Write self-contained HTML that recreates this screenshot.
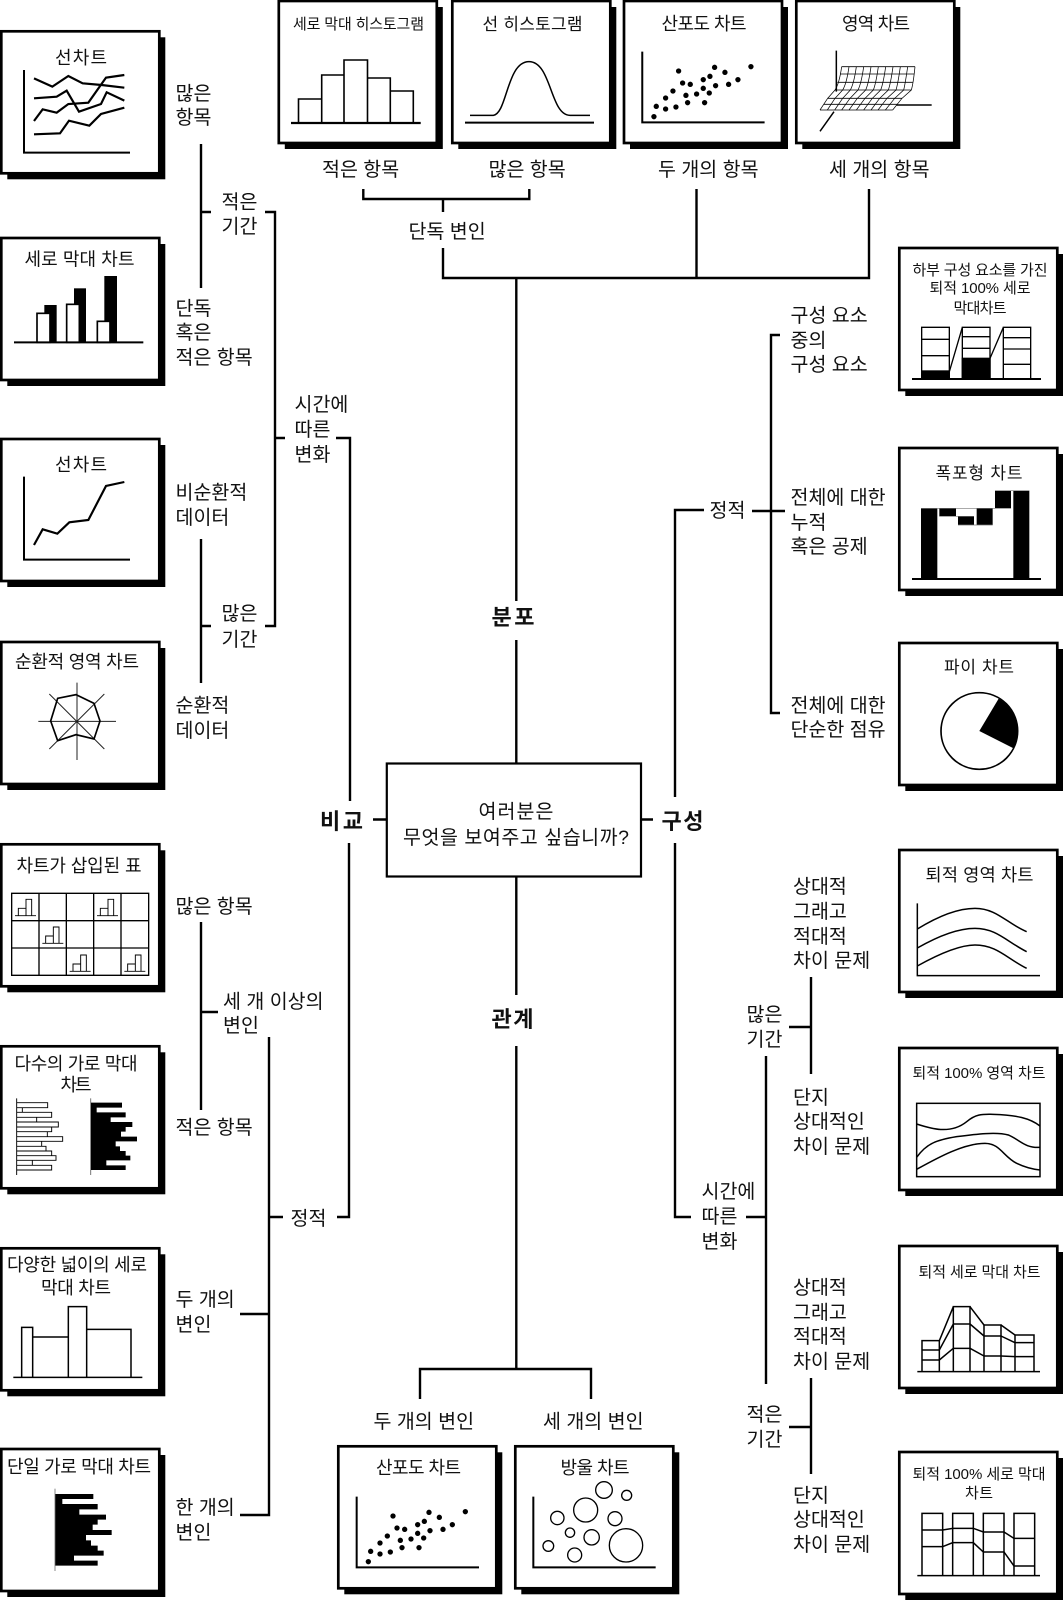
<!DOCTYPE html>
<html lang="ko"><head><meta charset="utf-8"><title>차트 선택 다이어그램</title>
<style>
html,body{margin:0;padding:0;background:#fff}
svg{display:block}
text{font-family:"Liberation Sans","Noto Sans CJK KR",sans-serif;fill:#111;font-size:19.5px}
.t{text-anchor:middle;font-size:18px}
.b{font-weight:700;font-size:22px}
.l{stroke:#000;stroke-width:2.4;fill:none}
.z{fill:none;stroke:#000}
</style></head><body>
<svg xmlns="http://www.w3.org/2000/svg" width="1063" height="1600" viewBox="0 0 1063 1600">
<defs>
<g id="f"><rect x="6" y="6" width="158" height="142" fill="#000"/><rect width="158" height="142" fill="#fff" stroke="#000" stroke-width="2.7"/></g>
<g id="sc" fill="#000">
<circle cx="115" cy="785" r="8"/><circle cx="122" cy="754" r="8"/><circle cx="150" cy="762" r="8"/><circle cx="150" cy="729" r="8"/><circle cx="181" cy="756" r="8"/><circle cx="172" cy="708" r="8"/><circle cx="216" cy="743" r="8"/><circle cx="211" cy="721" r="8"/><circle cx="201" cy="684" r="8"/><circle cx="224" cy="688" r="8"/><circle cx="243" cy="717" r="8"/><circle cx="263" cy="700" r="8"/><circle cx="281" cy="714" r="8"/><circle cx="267" cy="743" r="8"/><circle cx="300" cy="692" r="8"/><circle cx="263" cy="674" r="8"/><circle cx="283" cy="664" r="8"/><circle cx="189" cy="648" r="8"/><circle cx="297" cy="637" r="8"/><circle cx="328" cy="652" r="8"/><circle cx="339" cy="688" r="8"/><circle cx="367" cy="674" r="8"/><circle cx="406" cy="635" r="8"/>
<path d="M80 590V802H447" fill="none" stroke="#000" stroke-width="6"/>
</g>
<g id="mini" fill="none" stroke="#000" stroke-width="2.8"><path d="M0 0H63"/><path d="M10 0V-22H33V0M33 -22V-49H50V0"/></g>
</defs>

<!-- frames -->
<use href="#f" x="1.3" y="31.3"/><use href="#f" x="1.3" y="238"/><use href="#f" x="1.3" y="439"/><use href="#f" x="1.3" y="642"/><use href="#f" x="1.3" y="844.3"/><use href="#f" x="1.3" y="1046.3"/><use href="#f" x="1.3" y="1248.3"/><use href="#f" x="1.3" y="1449"/>
<use href="#f" x="278.8" y="1"/><use href="#f" x="452.3" y="1"/><use href="#f" x="624" y="1"/><use href="#f" x="796.3" y="1"/>
<use href="#f" x="899.3" y="248"/><use href="#f" x="899.3" y="448"/><use href="#f" x="899.3" y="643"/><use href="#f" x="899.3" y="850"/><use href="#f" x="899.3" y="1048"/><use href="#f" x="899.3" y="1246"/><use href="#f" x="899.3" y="1452"/>
<use href="#f" x="338.3" y="1446.3"/><use href="#f" x="515.3" y="1446.3"/>

<!-- center box -->
<rect x="386.8" y="763.5" width="254.2" height="113" fill="#fff" stroke="#000" stroke-width="2.2"/>

<!-- connectors -->
<g class="l">
<path d="M516.3 763V640M516.3 601V278"/>
<path d="M443 248V278H869V189M696.5 278V189"/>
<path d="M363.3 189V199H529.3V189M443 199V212"/>
<path d="M516.3 877V995M516.3 1046V1369"/>
<path d="M420 1399V1369H591V1399"/>
<path d="M373 819.5H386M641 819.5H653"/>
<path d="M350 801V438H336M349 843V1217H337"/>
<path d="M265 212H275V626H265M275 438H285"/>
<path d="M201 144V288M201 212H211"/>
<path d="M201 539V683M201 626H211"/>
<path d="M269 1037V1515H240M269 1217H283M269 1314H240"/>
<path d="M201 922V1110M201 1012H218"/>
<path d="M675 797V510H704M675 843V1217H691"/>
<path d="M780 335H771V713H780M752 511H785"/>
<path d="M746 1217H766M766 1056V1384"/>
<path d="M811 977V1074M789 1027H811"/>
<path d="M811 1378V1474M789 1427H811"/>
</g>

<!-- L1 line chart -->
<g class="z" transform="scale(.33333)">
<path d="M72 210V458H390" stroke-width="6"/>
<g stroke-width="6.5">
<path d="M102 235L157 260L205 228L248 250L305 255L373 263"/>
<path d="M102 295L170 290L200 272L237 335L303 312L320 277L373 302"/>
<path d="M102 363L128 328L170 338L205 312L265 308L318 233L373 225"/>
<path d="M102 403L180 400L207 362L268 377L303 342L373 323"/>
</g>
</g>
<!-- L2 bars -->
<g transform="scale(.33333)">
<rect x="133" y="915" width="37" height="112"/><rect x="222" y="865" width="36" height="162"/><rect x="313" y="828" width="38" height="199"/>
<g fill="#fff" stroke="#000" stroke-width="5"><rect x="111" y="940" width="39" height="87"/><rect x="200" y="913" width="38" height="114"/><rect x="292" y="964" width="38" height="63"/></g>
<path d="M42 1027H430" stroke="#000" stroke-width="6"/>
</g>
<!-- L3 -->
<g class="z" transform="translate(0,400) scale(.33333)">
<path d="M72 230V479H390" stroke-width="6"/>
<path d="M102 435L128 388L172 401L208 367L265 360L318 258L373 246" stroke-width="6.5"/>
</g>
<!-- L4 radar -->
<g class="z" transform="translate(0,400) scale(.33333)">
<path d="M231 848V1080M115 964H348M148 882L313 1047M313 882L148 1047" stroke-width="3" stroke="#222"/>
<path d="M228 884L282 910L300 963L282 1017L228 1004L173 1022L152 963L173 895Z" stroke-width="5"/>
</g>
<!-- L5 table -->
<g transform="translate(0,800) scale(.33333)">
<path class="z" stroke-width="4" d="M35 280H446V526H35ZM117 280V526M199 280V526M281 280V526M363 280V526M35 362H446M35 444H446"/>
<use href="#mini" x="45" y="347"/><use href="#mini" x="291" y="347"/><use href="#mini" x="127" y="430"/><use href="#mini" x="209" y="514"/><use href="#mini" x="373" y="514"/>
</g>
<!-- L6 multi bars -->
<g transform="translate(0,800) scale(.33333)">
<path class="z" stroke-width="2.8" stroke="#222" d="M50 895V1125M50 908H143V923H50M50 923H67V937H50M50 937H155V952H50M50 952H110V966H50M50 966H175V981H50M50 981H155V995H50M50 995H142V1010H50M50 1010H188V1024H50M50 1024H125V1039H50M50 1039H138V1053H50M50 1053H155V1067H50M50 1067H168V1081H50M50 1081H97V1096H50M50 1096H155V1110H50"/>
<path d="M272 895V1125" stroke="#777" stroke-width="3"/>
<path fill="#000" d="M273 908H366V923H290V937H377V952H332V966H397V981H377V995H363V1010H411V1024H347V1039H360V1053H377V1067H391V1081H319V1096H377V1110H273Z"/>
</g>
<!-- L7 variable width -->
<g class="z" transform="translate(0,1200) scale(.33333)" stroke-width="4.5">
<path d="M40 532H427"/><path d="M65 532V382H98V532M98 411H205M205 532V320H260V532M260 388H393V532"/>
</g>
<!-- L8 single bars -->
<g transform="translate(0,1200) scale(.33333)">
<path d="M165 866V1113" stroke="#888" stroke-width="3"/>
<path fill="#000" d="M166 882H280V897H187V912H293V928H238V944H318V959H293V974H278V990H335V1005H258V1021H273V1037H293V1052H311V1067H222V1082H293V1097H166Z"/>
</g>

<!-- T1 histogram -->
<g class="z" stroke-width="1.6">
<path d="M298.5 122V99H321.7M321.7 122V75H344M344 122V60H367.5V122M367.5 78H390.3V122M390.3 91H413.3V122"/>
<path d="M291 123H420.7" stroke-width="2.2"/>
</g>
<!-- T2 curve -->
<g class="z" transform="translate(350,0) scale(.33333)">
<path d="M345 368H732" stroke-width="6"/>
<path d="M360 346H430C472 340 470 185 537 185C605 185 600 346 660 346H720" stroke-width="4.5"/>
</g>
<!-- T3 scatter -->
<g transform="translate(615.6,-145) scale(.33333)"><use href="#sc"/></g>
<!-- T4 3D mesh -->
<g class="z" transform="translate(700,0) scale(.33333)">
<path d="M409 152V275M402 335L360 394M590 315H695" stroke-width="4.5"/>
<path d="M425 200H645M420 222H642M412 247H638M405 270H634M383 295H606M372 313H592M360 330H578" stroke-width="2.5"/>
<g stroke-width="2.2">
<path d="M425 200Q418 250 405 270L383 295L360 330"/><path d="M447 200Q440 250 428 270L405 295L382 330"/><path d="M469 200Q462 250 451 270L428 295L404 330"/><path d="M491 200Q484 250 474 270L450 295L425 330"/><path d="M513 200Q506 250 497 270L472 295L447 330"/><path d="M535 200Q528 250 520 270L495 295L469 330"/><path d="M557 200Q550 250 542 270L517 295L491 330"/><path d="M579 200Q572 250 565 270L539 295L513 330"/><path d="M601 200Q594 250 588 270L561 295L534 330"/><path d="M623 200Q616 250 611 270L584 295L556 330"/><path d="M645 200Q640 250 634 270L606 295L578 330"/>
</g>
</g>

<!-- R1 -->
<g class="z" transform="translate(700,0) scale(.33333)" stroke-width="4">
<rect x="665" y="1113" width="83" height="24" fill="#000"/><rect x="787" y="1075" width="83" height="62" fill="#000"/>
<path d="M665 1137V982H748V1137M787 1137V982H870V1137M910 1137V982H992V1137"/>
<path d="M665 1018H748M665 1067H748M787 1010H870M787 1045H870M910 1013H992M910 1047H992M910 1093H992"/>
<path d="M748 1115L787 982M870 1075L910 982"/>
<path d="M636 1137H1023" stroke-width="6"/>
</g>
<!-- R2 waterfall -->
<g transform="translate(700,400) scale(.33333)">
<rect x="663" y="325" width="49" height="212"/><rect x="940" y="272" width="48" height="265"/>
<rect x="718" y="325" width="50" height="24"/><rect x="774" y="349" width="48" height="26"/><rect x="830" y="325" width="48" height="50"/><rect x="885" y="272" width="48" height="53"/>
<path d="M712 325H885M718 349H822M774 375H878M885 272H988" stroke="#777" stroke-width="2" fill="none"/>
<path d="M636 537H1023" stroke="#000" stroke-width="6"/>
</g>
<!-- R3 pie -->
<g transform="translate(700,400) scale(.33333)">
<circle cx="838" cy="993" r="115" fill="#fff" stroke="#000" stroke-width="5"/>
<path d="M838 993L896 896A115 115 0 0 1 941 1045Z"/>
</g>
<!-- R4 stacked area -->
<g class="z" transform="translate(700,820) scale(.33333)" stroke-width="4.5">
<path d="M652 250V467H1020"/>
<path d="M652 327C720 285 780 265 825 265C890 265 920 310 980 335"/>
<path d="M652 384C720 345 780 325 825 325C890 325 920 365 980 395"/>
<path d="M652 438C720 400 780 375 825 375C890 375 920 415 980 445"/>
</g>
<!-- R5 100% area -->
<g class="z" transform="translate(700,820) scale(.33333)" stroke-width="4.5">
<rect x="650" y="850" width="370" height="220"/>
<path d="M650 912C690 925 750 945 800 905C830 880 850 883 880 883C950 885 990 895 1020 918"/>
<path d="M650 1012C680 970 710 960 770 950C830 942 890 935 925 945C960 960 975 985 1020 982"/>
<path d="M650 1048C710 1015 790 970 855 970C900 970 910 1010 950 1030C975 1042 1000 1048 1020 1050"/>
</g>
<!-- R6 stacked column -->
<g class="z" transform="translate(700,1210) scale(.33333)" stroke-width="4.5">
<path d="M652 485H1020"/>
<path d="M666 485V392H718V485M760 485V290H810V485M852 485V345H903V485M945 485V375H1002V485"/>
<path d="M666 420H718M666 450H718M760 342H810M760 415H810M852 378H903M852 438H903M945 398H1002M945 440H1002"/>
<path d="M718 392L760 290M718 420L760 342M718 450L760 415M810 290L852 345M810 342L852 378M810 415L852 438M903 345L945 375M903 378L945 398M903 438L945 440"/>
</g>
<!-- R7 100% column -->
<g class="z" transform="translate(700,1210) scale(.33333)" stroke-width="4.5">
<path d="M652 1097H1020"/>
<path d="M666 1097V910H728V1097M758 1097V910H820V1097M850 1097V910H912V1097M942 1097V910H1004V1097"/>
<path d="M666 960H728L758 955H820L850 966H912L942 985H1004M666 1010H728L758 998H820L850 1026H912L942 1068H1004"/>
</g>
<!-- B1 scatter -->
<g transform="translate(330,1300) scale(.33333)"><use href="#sc"/></g>
<!-- B2 bubbles -->
<g class="z" transform="translate(330,1300) scale(.33333)" stroke-width="4">
<path d="M610 590V802H977" stroke-width="6"/>
<circle cx="822" cy="570" r="25"/><circle cx="890" cy="586" r="15"/><circle cx="767" cy="630" r="36"/><circle cx="682" cy="654" r="20"/><circle cx="855" cy="656" r="21"/><circle cx="720" cy="698" r="14"/><circle cx="785" cy="712" r="23"/><circle cx="888" cy="736" r="50"/><circle cx="655" cy="738" r="16"/><circle cx="734" cy="765" r="21"/>
</g>

<!-- Box titles -->
<text class="t" x="81" y="64" textLength="52">선차트</text>
<text class="t" x="79.5" y="265.5" textLength="110">세로 막대 차트</text>
<text class="t" x="81" y="471" textLength="52">선차트</text>
<text class="t" x="77" y="668" textLength="124">순환적 영역 차트</text>
<text class="t" x="79" y="872" textLength="125">차트가 삽입된 표</text>
<text class="t" x="76" y="1070" textLength="123">다수의 가로 막대</text>
<text class="t" x="76" y="1091" textLength="31">차트</text>
<text class="t" x="77" y="1271" textLength="140">다양한 넓이의 세로</text>
<text class="t" x="76" y="1294" textLength="70">막대 차트</text>
<text class="t" x="79" y="1473" textLength="144">단일 가로 막대 차트</text>
<text class="t" x="358.5" y="29" textLength="131" style="font-size:15px">세로 막대 히스토그램</text>
<text class="t" x="532.5" y="30" textLength="100" style="font-size:17px">선 히스토그램</text>
<text class="t" x="704" y="30" textLength="85">산포도 차트</text>
<text class="t" x="876" y="30" textLength="68">영역 차트</text>
<text class="t" x="980" y="275" textLength="135" style="font-size:15px">하부 구성 요소를 가진</text>
<text class="t" x="980" y="293" textLength="101" style="font-size:15px">퇴적 100% 세로</text>
<text class="t" x="980" y="313" textLength="53" style="font-size:15px">막대차트</text>
<text class="t" x="979" y="479" textLength="87" style="font-size:17px">폭포형 차트</text>
<text class="t" x="979" y="673" textLength="70" style="font-size:17px">파이 차트</text>
<text class="t" x="979.5" y="881" textLength="108" style="font-size:17.5px">퇴적 영역 차트</text>
<text class="t" x="979" y="1078" textLength="133" style="font-size:15px">퇴적 100% 영역 차트</text>
<text class="t" x="979.5" y="1277" textLength="122" style="font-size:15px">퇴적 세로 막대 차트</text>
<text class="t" x="979" y="1479" textLength="133" style="font-size:15px">퇴적 100% 세로 막대</text>
<text class="t" x="979" y="1498" textLength="28" style="font-size:15px">차트</text>
<text class="t" x="418.5" y="1474" textLength="85">산포도 차트</text>
<text class="t" x="595" y="1474" textLength="69">방울 차트</text>

<!-- Center text -->
<text x="516" y="818" text-anchor="middle" textLength="75">여러분은</text>
<text x="516" y="844" text-anchor="middle" textLength="226">무엇을 보여주고 싶습니까?</text>
<text class="b" x="320" y="829" textLength="43">비교</text>
<text class="b" x="661.5" y="829" textLength="42">구성</text>
<text class="b" x="491.5" y="1027" textLength="42">관계</text>
<text class="b" x="491.5" y="625" textLength="43">분포</text>

<!-- Left labels -->
<text x="175.5" y="100">많은</text><text x="175.5" y="124">항목</text>
<text x="175.5" y="315">단독</text><text x="175.5" y="339">혹은</text><text x="175.5" y="364">적은 항목</text>
<text x="221.5" y="208.5">적은</text><text x="221.5" y="233">기간</text>
<text x="294.5" y="411">시간에</text><text x="294.5" y="436">따른</text><text x="294.5" y="461">변화</text>
<text x="175.5" y="499">비순환적</text><text x="175.5" y="524">데이터</text>
<text x="221.5" y="620">많은</text><text x="221.5" y="646">기간</text>
<text x="175.5" y="712">순환적</text><text x="175.5" y="737">데이터</text>
<text x="175.5" y="913">많은 항목</text>
<text x="223" y="1008">세 개 이상의</text><text x="223" y="1032">변인</text>
<text x="175.5" y="1134">적은 항목</text>
<text x="290.5" y="1225">정적</text>
<text x="175.5" y="1306">두 개의</text><text x="175.5" y="1331">변인</text>
<text x="175.5" y="1514">한 개의</text><text x="175.5" y="1539">변인</text>

<!-- Top labels -->
<text x="322" y="176">적은 항목</text>
<text x="488.5" y="176">많은 항목</text>
<text x="658" y="176">두 개의 항목</text>
<text x="829" y="176">세 개의 항목</text>
<text x="408.5" y="238">단독 변인</text>

<!-- Bottom labels -->
<text x="373.5" y="1428">두 개의 변인</text>
<text x="543" y="1428">세 개의 변인</text>

<!-- Right labels -->
<text x="790.5" y="322">구성 요소</text><text x="790.5" y="347">중의</text><text x="790.5" y="371">구성 요소</text>
<text x="709.5" y="517">정적</text>
<text x="790.5" y="504">전체에 대한</text><text x="790.5" y="529">누적</text><text x="790.5" y="553">혹은 공제</text>
<text x="790.5" y="712">전체에 대한</text><text x="790.5" y="736">단순한 점유</text>
<text x="793" y="893">상대적</text><text x="793" y="918">그래고</text><text x="793" y="943">적대적</text><text x="793" y="967">차이 문제</text>
<text x="746.5" y="1021">많은</text><text x="746.5" y="1046">기간</text>
<text x="793" y="1104">단지</text><text x="793" y="1128">상대적인</text><text x="793" y="1153">차이 문제</text>
<text x="701.5" y="1198">시간에</text><text x="701.5" y="1223">따른</text><text x="701.5" y="1248">변화</text>
<text x="793" y="1294">상대적</text><text x="793" y="1319">그래고</text><text x="793" y="1343">적대적</text><text x="793" y="1368">차이 문제</text>
<text x="746.5" y="1421">적은</text><text x="746.5" y="1446">기간</text>
<text x="793" y="1502">단지</text><text x="793" y="1526">상대적인</text><text x="793" y="1551">차이 문제</text>
</svg>
</body></html>
